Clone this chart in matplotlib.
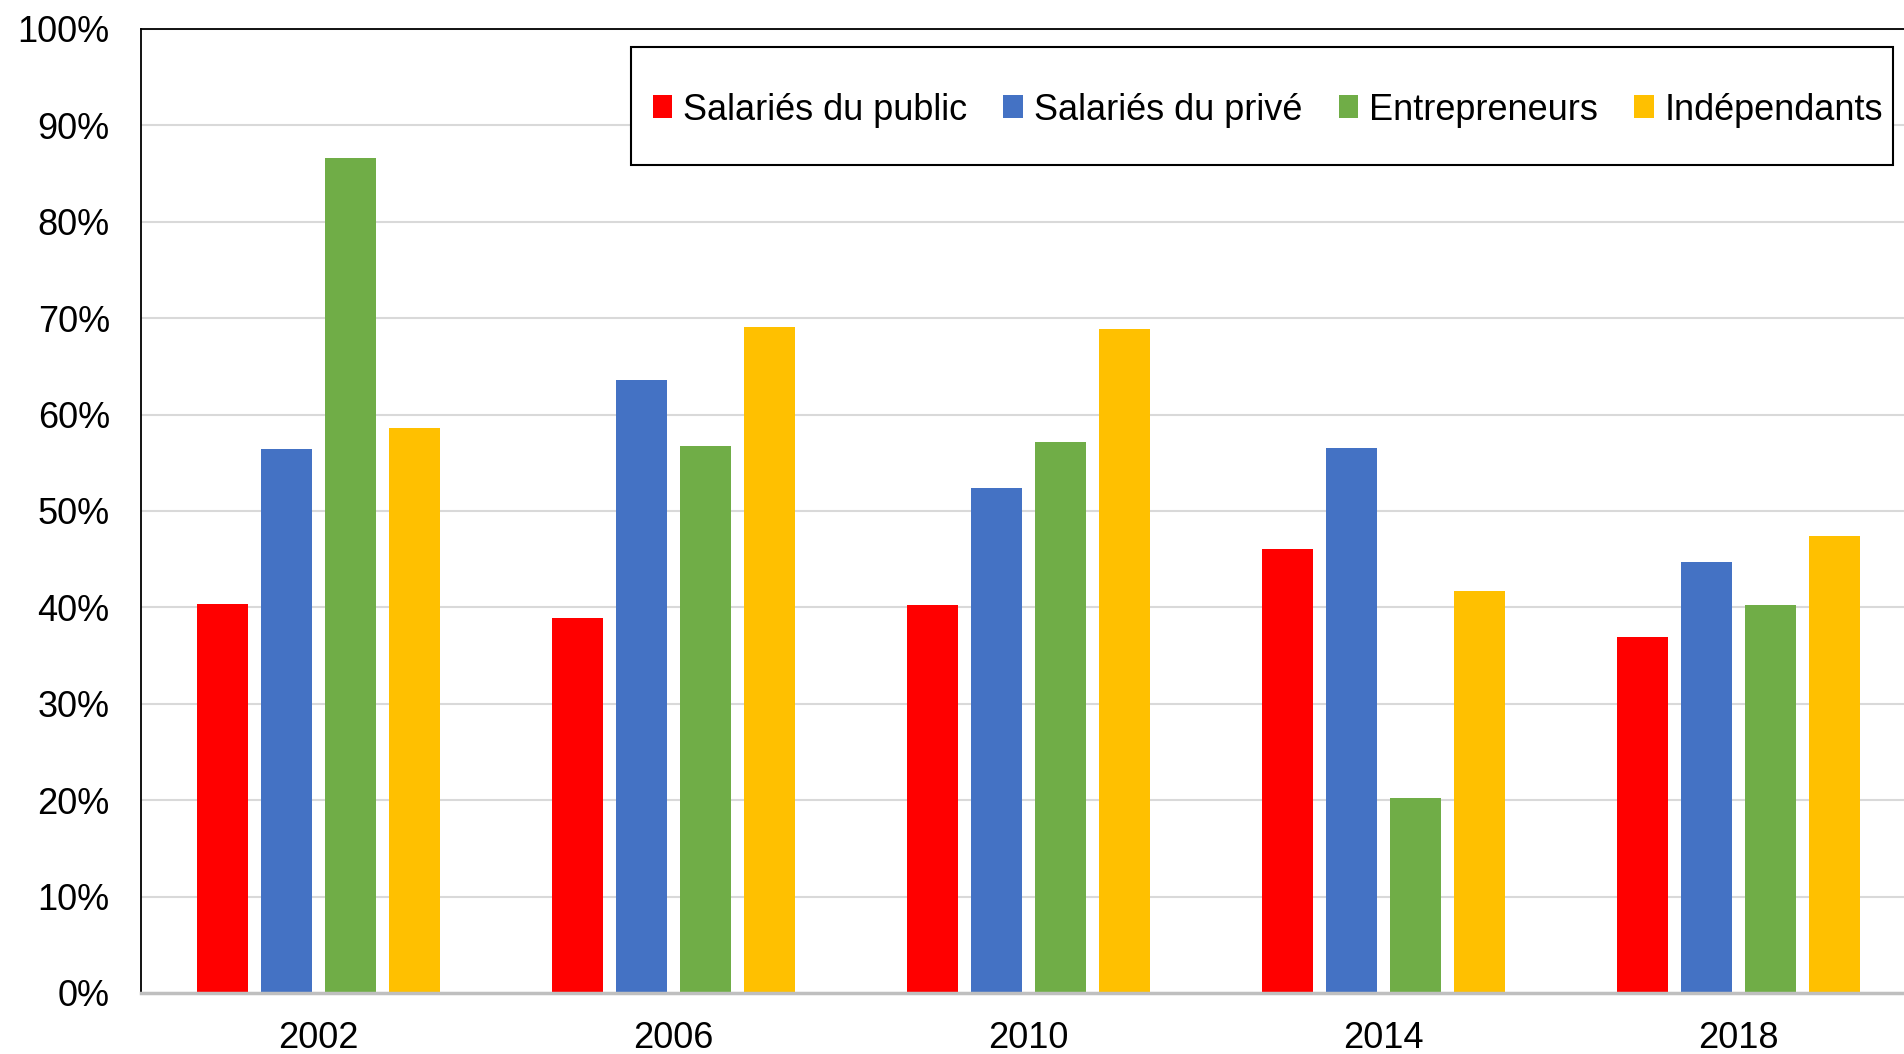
import matplotlib
matplotlib.use("Agg")
import matplotlib.pyplot as plt
from matplotlib.patches import Rectangle
from matplotlib.ticker import PercentFormatter
import numpy as np

plt.rcParams['font.family'] = ['Liberation Sans', 'DejaVu Sans']

years = ["2002", "2006", "2010", "2014", "2018"]
series_names = ["Salariés du public", "Salariés du privé", "Entrepreneurs", "Indépendants"]
public = [40.4, 38.9, 40.2, 46.1, 36.9]
prive = [56.4, 63.6, 52.4, 56.5, 44.7]
entrepreneurs = [86.6, 56.7, 57.2, 20.2, 40.2]
independants = [58.6, 69.1, 68.9, 41.7, 47.4]
colors = ["#FF0000", "#4472C4", "#70AD47", "#FFC000"]

W, H = 1904, 1054
fig = plt.figure(figsize=(W / 100, H / 100), dpi=100)
ax = fig.add_axes([141 / W, 1 - 993 / H, (1916 - 141) / W, (993 - 29) / H])

x = np.arange(len(years))
step = 0.18
width = 0.144
all_series = [public, prive, entrepreneurs, independants]
handles = []
for i, (vals, name, c) in enumerate(zip(all_series, series_names, colors)):
    b = ax.bar(x + (i - 1.5) * step, vals, width=width, color=c, label=name, zorder=3)
    handles.append(b)

ax.set_xlim(-0.5, len(years) - 0.5)
ax.set_ylim(0, 100)
ax.set_yticks(np.arange(0, 101, 10))
ax.yaxis.set_major_formatter(PercentFormatter(decimals=0))
ax.set_xticks(x)
ax.set_xticklabels(years)
ax.tick_params(axis='both', length=0, labelsize=26, colors='black')
ax.tick_params(axis='y', pad=22.5)
ax.tick_params(axis='x', pad=20)
ax.grid(axis='y', color='#D9D9D9', linewidth=1.5, zorder=0)
ax.set_axisbelow(True)
ax.spines['right'].set_visible(False)
ax.spines['left'].set_color('black')
ax.spines['left'].set_linewidth(1.3)
ax.spines['top'].set_color('black')
ax.spines['top'].set_linewidth(1.3)
ax.spines['bottom'].set_color('#BFBFBF')
ax.spines['bottom'].set_linewidth(2.5)
ax.spines['bottom'].set_zorder(4)

fig.patches.append(Rectangle((631 / W, 1 - 165 / H), (1893 - 631) / W, (165 - 47) / H,
                             transform=fig.transFigure, fill=True, facecolor='white',
                             edgecolor='black', linewidth=1.5, zorder=5))
leg = fig.legend(handles=handles, labels=series_names, loc='center',
                 bbox_to_anchor=(1268 / W, 1 - 110 / H), ncol=4, frameon=False,
                 fontsize=26, handlelength=0.55, handleheight=0.6,
                 handletextpad=0.3, columnspacing=1.0)
leg.set_zorder(6)

fig.savefig("out.png", dpi=100)
